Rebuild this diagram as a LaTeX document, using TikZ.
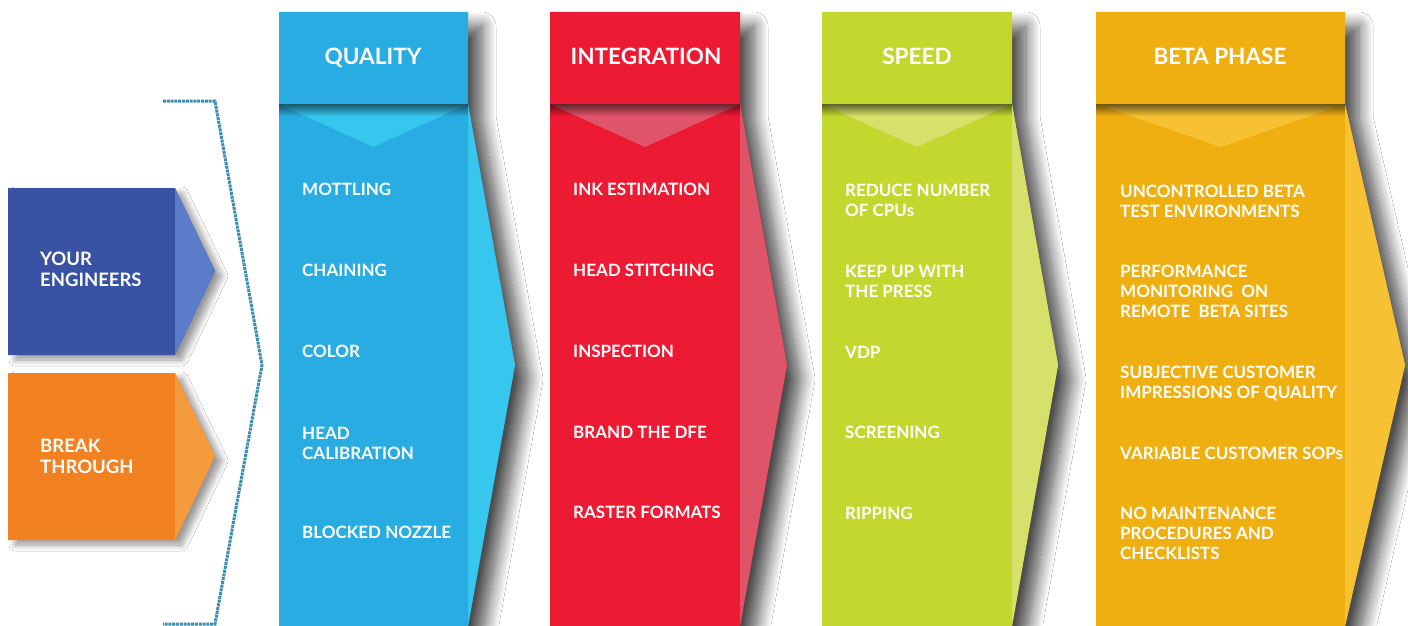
\documentclass[tikz,border=0pt]{standalone}
\usepackage{fontspec}
\setmainfont{Lato}
\usetikzlibrary{shadows.blur,fadings}
\definecolor{qmain}{HTML}{29ACE2}
\definecolor{qlight}{HTML}{36C6EE}
\definecolor{imain}{HTML}{EC1A33}
\definecolor{ilight}{HTML}{E05469}
\definecolor{smain}{HTML}{C2D82E}
\definecolor{slight}{HTML}{D5E16A}
\definecolor{bmain}{HTML}{EFAF10}
\definecolor{blight}{HTML}{F6C233}
\definecolor{emain}{HTML}{3A52A3}
\definecolor{elight}{HTML}{5B7CC9}
\definecolor{omain}{HTML}{F28121}
\definecolor{olight}{HTML}{F49B3D}
\definecolor{brk}{HTML}{3C8EB0}
\tikzfading[name=hdrshade, top color=transparent!45, bottom color=transparent!100]
\tikzset{
  sh/.style={blur shadow={shadow xshift=14pt, shadow yshift=-14pt, shadow blur radius=14pt, shadow blur steps=14, shadow opacity=70}},
  shs/.style={blur shadow={shadow xshift=7pt, shadow yshift=-5pt, shadow blur radius=6pt, shadow blur steps=10, shadow opacity=40}},
  item/.style={anchor=north west, inner sep=0pt, text=white, align=left, font=\fontsize{17}{20}\selectfont\bfseries},
  lbl/.style={anchor=north west, inner sep=0pt, text=white, align=left, font=\fontsize{18.5}{20.5}\selectfont\bfseries},
  head/.style={anchor=base, inner sep=0pt, text=white, font=\fontsize{22.5}{25}\selectfont\bfseries},
}
\newcommand\mycol[5]{%
 \fill[#4, sh] (#1,12) -- (#2,12) -- (#2,104) -- (#3,365) -- (#2,626) -- (#1,626) -- cycle;
 \fill[#5] (#2,104) -- (#3,365) -- (#2,626) -- cycle;
 \fill[#5] (#1,104) -- (#2,104) -- ({(#1+#2)/2},147) -- cycle;
 \fill[black, path fading=hdrshade] (#1,104) rectangle (#2,116);
}
\begin{document}
\begin{tikzpicture}[x=1pt,y=-1pt]
\useasboundingbox[fill=white] (0,0) rectangle (1408,626);
% left boxes
\fill[emain, shs] (8,188) -- (175,188) -- (215,271) -- (175,355) -- (8,355) -- cycle;
\fill[elight] (175,188) -- (215,271) -- (175,355) -- cycle;
\fill[omain, shs] (8,373) -- (175,373) -- (215,456) -- (175,540) -- (8,540) -- cycle;
\fill[olight] (175,373) -- (215,456) -- (175,540) -- cycle;
\node[lbl] (eng) at (40,252) {YOUR\\ENGINEERS};
\node[lbl] (brk) at (40,439) {BREAK\\THROUGH};
% bracket
\draw[brk, line width=3pt, dash pattern=on 3pt off 0.8pt] (163,101) -- (215,101) -- (262,365) -- (215,624) -- (163,624);
% columns
\mycol{279}{468}{515}{qmain}{qlight}
\mycol{550}{740}{787}{imain}{ilight}
\mycol{822}{1012}{1058}{smain}{slight}
\mycol{1096}{1345}{1405}{bmain}{blight}
% headers
\node[head] (hq) at (373,65) {QUALITY};
\node[head] (hi) at (646,65) {INTEGRATION};
\node[head] (hs) at (917,65) {SPEED};
\node[head] (hb) at (1220,65) {BETA PHASE};
% quality
\node[item] (q1) at (302,183) {MOTTLING};
\node[item] (q2) at (302,264) {CHAINING};
\node[item] (q3) at (302,345) {COLOR};
\node[item] (q4) at (302,427) {HEAD\\CALIBRATION};
\node[item] (q5) at (302,526) {BLOCKED NOZZLE};
% integration
\node[item] (i1) at (573,183) {INK ESTIMATION};
\node[item] (i2) at (573,264) {HEAD STITCHING};
\node[item] (i3) at (573,345) {INSPECTION};
\node[item] (i4) at (573,426) {BRAND THE DFE};
\node[item] (i5) at (573,506) {RASTER FORMATS};
% speed
\node[item] (s1) at (845,184) {REDUCE NUMBER\\OF CPUs};
\node[item] (s2) at (845,265) {KEEP UP WITH\\THE PRESS};
\node[item] (s3) at (845,346) {VDP};
\node[item] (s4) at (845,426) {SCREENING};
\node[item] (s5) at (845,507) {RIPPING};
% beta
\node[item] (b1) at (1120,185) {UNCONTROLLED BETA\\TEST ENVIRONMENTS};
\node[item] (b2) at (1120,265) {PERFORMANCE\\MONITORING\ \ ON\\REMOTE\ \ BETA SITES};
\node[item] (b3) at (1120,366) {SUBJECTIVE CUSTOMER\\IMPRESSIONS OF QUALITY};
\node[item] (b4) at (1120,447) {VARIABLE CUSTOMER SOPs};
\node[item] (b5) at (1120,507) {NO MAINTENANCE\\PROCEDURES AND\\CHECKLISTS};
\end{tikzpicture}
\end{document}
